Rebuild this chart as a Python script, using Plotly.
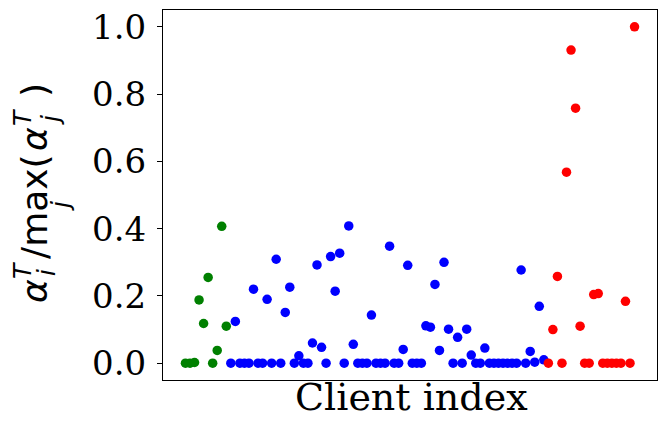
import plotly.graph_objects as go

green_idx = list(range(0, 10))
green_val = [0.0, 0.0, 0.002, 0.188, 0.118, 0.255, 0.0, 0.038, 0.407, 0.110]

blue_idx = list(range(10, 80))
blue_val = [0.0, 0.124, 0.0, 0.0, 0.0, 0.220, 0.0, 0.0, 0.190, 0.0,
            0.309, 0.0, 0.151, 0.226, 0.0, 0.022, 0.0, 0.0, 0.060, 0.292,
            0.047, 0.0, 0.317, 0.214, 0.327, 0.0, 0.408, 0.056, 0.0, 0.0,
            0.0, 0.143, 0.0, 0.0, 0.0, 0.348, 0.0, 0.0, 0.041, 0.291,
            0.0, 0.0, 0.0, 0.111, 0.107, 0.234, 0.038, 0.300, 0.101, 0.0,
            0.077, 0.0, 0.101, 0.024, 0.0, 0.0, 0.045, 0.0, 0.0, 0.0,
            0.0, 0.0, 0.0, 0.0, 0.277, 0.0, 0.035, 0.003, 0.169, 0.010]

red_idx = list(range(80, 100))
red_val = [0.0, 0.100, 0.258, 0.0, 0.568, 0.931, 0.758, 0.110, 0.0, 0.0,
           0.204, 0.207, 0.0, 0.0, 0.0, 0.0, 0.0, 0.184, 0.0, 1.0]

y_ticks = [0.0, 0.2, 0.4, 0.6, 0.8, 1.0]
y_ticktext = ["0.0", "0.2", "0.4", "0.6", "0.8", "1.0"]
x_title = "Client index"

W, H = 668, 432
ML, MR, MT, MB = 163, 11, 10, 52

fig = go.Figure()
for xs, ys, col in [(green_idx, green_val, "green"), (blue_idx, blue_val, "blue"), (red_idx, red_val, "red")]:
    fig.add_trace(go.Scatter(x=xs, y=ys, mode="markers",
                             marker=dict(color=col, size=9.5, line=dict(width=0)),
                             showlegend=False))

fig.update_layout(
    width=W, height=H,
    margin=dict(l=ML, r=MR, t=MT, b=MB, autoexpand=False),
    paper_bgcolor="white", plot_bgcolor="white",
    font=dict(family="DejaVu Serif", color="black", size=34),
)
fig.update_xaxes(range=[-4.95, 103.95], showticklabels=False, ticks="",
                 showgrid=False, zeroline=False, showline=True, linecolor="black",
                 linewidth=1, mirror=True, automargin=False)
fig.update_yaxes(range=[-0.05, 1.05], tickvals=y_ticks, ticktext=y_ticktext,
                 ticks="outside", ticklen=5, tickwidth=1, tickcolor="black",
                 showgrid=False, zeroline=False, showline=True, linecolor="black",
                 linewidth=1, mirror=True, ticklabelstandoff=4, automargin=False,
                 tickfont=dict(family="DejaVu Serif", size=34))


def px_annot(text, X, Y, size, family="DejaVu Sans", angle=0):
    # place the centre of a text box at screen pixel (X, Y)
    fig.add_annotation(text=text, xref="paper", yref="paper", x=0, y=0,
                       xshift=X - ML, yshift=(H - MB) - Y,
                       xanchor="center", yanchor="middle", textangle=angle,
                       showarrow=False, borderpad=0,
                       font=dict(family=family, size=size, color="black"))


# x-axis title
px_annot(x_title, 411, 397, 38, family="DejaVu Serif")

# y-axis label pieces (rotated, mathtext-like)
S, s = 36, 25
px_annot("<i>α</i>", 34, 291, S, angle=-90)
px_annot("<i>T</i>", 22, 271, s, angle=-90)
px_annot("<i>i</i>", 46, 273, s, angle=-90)
px_annot("/max(", 34, 207, S, angle=-90)
px_annot("<i>j</i>", 60, 206, s, angle=-90)
px_annot("<i>α</i>", 34, 139, S, angle=-90)
px_annot("<i>T</i>", 22, 118, s, angle=-90)
px_annot("<i>j</i>", 50, 120, s, angle=-90)
px_annot(")", 34, 90, S, angle=-90)

fig.write_html("out.html")
